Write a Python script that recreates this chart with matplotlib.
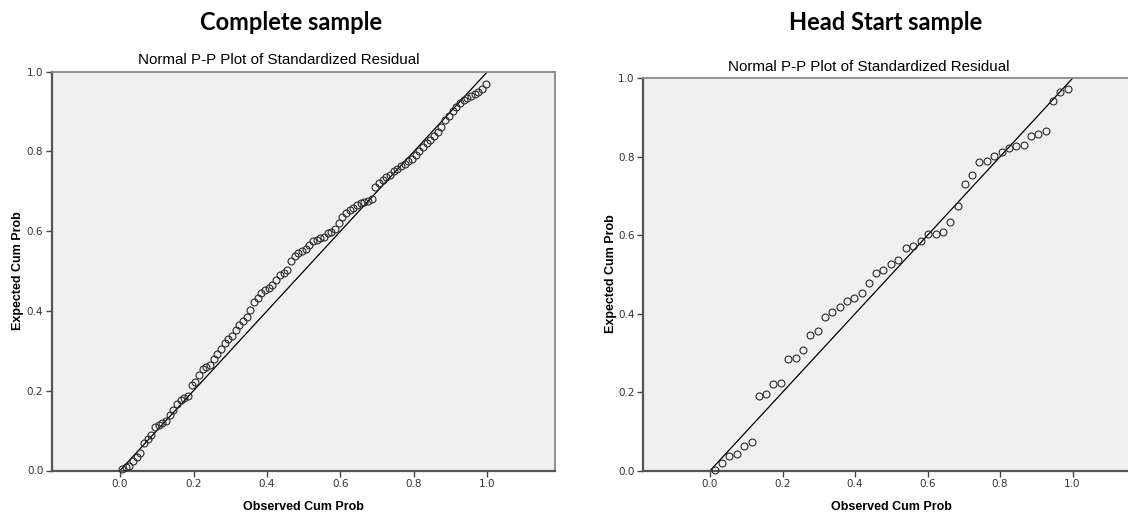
import matplotlib
matplotlib.use("Agg")
import matplotlib.pyplot as plt

# Complete sample: observed vs expected cumulative probability
obs_complete = [0.005, 0.015, 0.025, 0.035, 0.045, 0.055, 0.065, 0.075, 0.085, 0.095,
                0.105, 0.115, 0.125, 0.135, 0.145, 0.155, 0.165, 0.175, 0.185, 0.195,
                0.205, 0.215, 0.225, 0.235, 0.245, 0.255, 0.265, 0.275, 0.285, 0.295,
                0.305, 0.315, 0.325, 0.335, 0.345, 0.355, 0.365, 0.375, 0.385, 0.395,
                0.405, 0.415, 0.425, 0.435, 0.445, 0.455, 0.465, 0.475, 0.485, 0.495,
                0.505, 0.515, 0.525, 0.535, 0.545, 0.555, 0.565, 0.575, 0.585, 0.595,
                0.605, 0.615, 0.625, 0.635, 0.645, 0.655, 0.665, 0.675, 0.685, 0.695,
                0.705, 0.715, 0.725, 0.735, 0.745, 0.755, 0.765, 0.775, 0.785, 0.795,
                0.805, 0.815, 0.825, 0.835, 0.845, 0.855, 0.865, 0.875, 0.885, 0.895,
                0.905, 0.915, 0.925, 0.935, 0.945, 0.955, 0.965, 0.975, 0.985, 0.995]
exp_complete = [0.003, 0.008, 0.012, 0.024, 0.034, 0.043, 0.068, 0.078, 0.090, 0.108,
                0.114, 0.119, 0.124, 0.138, 0.152, 0.168, 0.178, 0.183, 0.186, 0.215,
                0.222, 0.240, 0.255, 0.259, 0.265, 0.279, 0.292, 0.305, 0.320, 0.330,
                0.338, 0.352, 0.365, 0.376, 0.385, 0.403, 0.422, 0.432, 0.445, 0.452,
                0.458, 0.465, 0.478, 0.490, 0.496, 0.502, 0.525, 0.537, 0.545, 0.550,
                0.556, 0.565, 0.575, 0.579, 0.582, 0.585, 0.596, 0.598, 0.606, 0.620,
                0.635, 0.645, 0.652, 0.658, 0.665, 0.670, 0.673, 0.677, 0.680, 0.712,
                0.722, 0.729, 0.736, 0.742, 0.750, 0.757, 0.764, 0.768, 0.776, 0.782,
                0.790, 0.800, 0.810, 0.820, 0.829, 0.838, 0.849, 0.862, 0.878, 0.890,
                0.901, 0.911, 0.921, 0.929, 0.934, 0.938, 0.943, 0.948, 0.956, 0.970]

# Head Start sample
obs_head = [0.014, 0.034, 0.053, 0.074, 0.095, 0.115, 0.134, 0.154, 0.175, 0.196,
            0.216, 0.236, 0.256, 0.277, 0.297, 0.317, 0.337, 0.358, 0.378, 0.398,
            0.418, 0.439, 0.459, 0.478, 0.499, 0.519, 0.541, 0.561, 0.581, 0.602,
            0.623, 0.642, 0.662, 0.683, 0.703, 0.724, 0.743, 0.763, 0.784, 0.805,
            0.825, 0.845, 0.865, 0.886, 0.906, 0.926, 0.946, 0.966, 0.987]
exp_head = [0.002, 0.019, 0.038, 0.042, 0.064, 0.074, 0.191, 0.195, 0.220, 0.223,
            0.285, 0.288, 0.308, 0.346, 0.356, 0.391, 0.405, 0.416, 0.433, 0.439,
            0.452, 0.479, 0.505, 0.511, 0.527, 0.537, 0.568, 0.573, 0.585, 0.602,
            0.603, 0.609, 0.633, 0.675, 0.730, 0.754, 0.787, 0.790, 0.803, 0.811,
            0.822, 0.828, 0.830, 0.853, 0.858, 0.866, 0.942, 0.964, 0.973]

ticks = [0.0, 0.2, 0.4, 0.6, 0.8, 1.0]
tick_labels = ["0.0", "0.2", "0.4", "0.6", "0.8", "1.0"]

W, H = 1128, 515
fig = plt.figure(figsize=(W / 100, H / 100), dpi=100)
fig.patch.set_facecolor("white")


def px(x0, y_top, x1, y_bot):
    # pixel box -> figure fraction rect
    return [x0 / W, 1 - y_bot / H, (x1 - x0) / W, (y_bot - y_top) / H]


def pp_panel(rect, xlim, obs, exp):
    ax = fig.add_axes(rect)
    ax.set_facecolor("#f0f0f0")
    ax.plot([0, 1], [0, 1], color="black", lw=0.9, zorder=2)
    ax.plot(obs, exp, linestyle="none", marker="o", markersize=5,
            markerfacecolor="none", markeredgecolor="#2b2b2b",
            markeredgewidth=0.8, zorder=3, clip_on=False)
    ax.set_xlim(xlim)
    ax.set_ylim(0, 1)
    ax.set_xticks(ticks)
    ax.set_xticklabels(tick_labels)
    ax.set_yticks(ticks)
    ax.set_yticklabels(tick_labels)
    ax.tick_params(direction="out", length=4, width=1, color="#444444",
                   labelsize=7.5, labelcolor="#333333", pad=2)
    for side in ["left", "bottom"]:
        ax.spines[side].set_color("#555555")
        ax.spines[side].set_linewidth(1.6)
    for side in ["top", "right"]:
        ax.spines[side].set_color("#888888")
        ax.spines[side].set_linewidth(1.3)
    return ax


ax1 = pp_panel(px(51.7, 71.7, 555, 470.5), (-0.186, 1.184), obs_complete, exp_complete)
ax2 = pp_panel(px(643, 78.3, 1139.6, 470.7), (-0.185, 1.185), obs_head, exp_head)

# headings
fig.text(291.5 / W, 1 - 22 / H, "Complete sample", ha="center", va="center",
         fontsize=17, fontweight="bold", family="Lato")
fig.text(886 / W, 1 - 22 / H, "Head Start sample", ha="center", va="center",
         fontsize=17, fontweight="bold", family="Lato")

sub = "Normal P-P Plot of Standardized Residual"
fig.text(279 / W, 1 - 60 / H, sub, ha="center", va="center", fontsize=10.9,
         family="Liberation Sans")
fig.text(868.6 / W, 1 - 66.7 / H, sub, ha="center", va="center", fontsize=10.9,
         family="Liberation Sans")

# axis titles
for cx, cy in [(303, 507), (891, 507)]:
    fig.text(cx / W, 1 - cy / H, "Observed Cum Prob", ha="center", va="center",
             fontsize=9, fontweight="bold", family="Liberation Sans")
for cx, cy in [(18, 271), (611, 274)]:
    fig.text(cx / W, 1 - cy / H, "Expected Cum Prob", ha="center", va="center",
             rotation=90, fontsize=9, fontweight="bold", family="Liberation Sans")

fig.savefig("out.png", dpi=100)
